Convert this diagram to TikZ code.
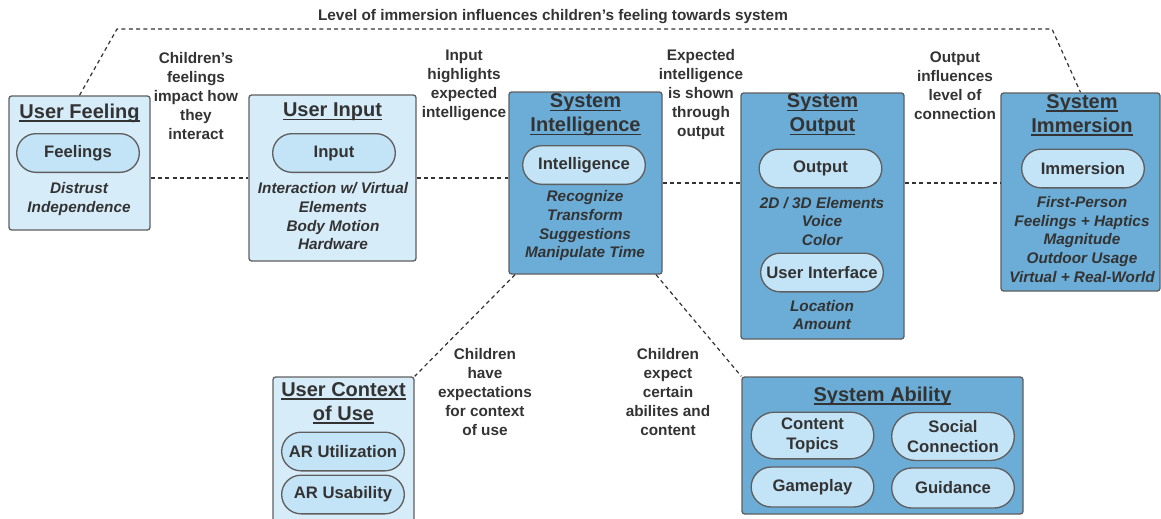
\documentclass[tikz,border=0pt]{standalone}
\usepackage{fontspec}
\setmainfont{Liberation Sans}
\usetikzlibrary{shapes.misc}
\newsavebox{\headbox}
\newcommand{\headul}[1]{\sbox{\headbox}{#1}\rlap{\raisebox{-2.6pt}{\rule{\wd\headbox}{1.1pt}}}\usebox{\headbox}}
\definecolor{lightfill}{HTML}{D7ECF9}
\definecolor{pillfill}{HTML}{C3E3F6}
\definecolor{darkfill}{HTML}{6BADD6}
\definecolor{edgegrey}{HTML}{5F5F5F}
\definecolor{inkgrey}{HTML}{333333}
\tikzset{
	box/.style={draw=edgegrey, line width=1pt, rounded corners=2pt, inner sep=0pt},
	lightbox/.style={box, fill=lightfill},
	darkbox/.style={box, fill=darkfill},
	pill/.style={draw=edgegrey, line width=1pt, fill=pillfill, rounded rectangle, inner sep=0pt,
		minimum width=92pt, minimum height=29pt, align=center, text=inkgrey,
		font=\fontsize{12.5}{15}\selectfont\bfseries},
	heading/.style={text=inkgrey, align=center, font=\fontsize{15}{18}\selectfont\bfseries},
	items/.style={text=inkgrey, align=center, font=\fontsize{11.5}{14}\selectfont\bfseries\itshape},
	note/.style={text=inkgrey, align=center, font=\fontsize{11.5}{14.25}\selectfont\bfseries},
	link/.style={draw=inkgrey, line width=0.9pt, dash pattern=on 3pt off 2.5pt},
}
\begin{document}
\begin{tikzpicture}[x=0.75pt, y=-0.75pt]
	\useasboundingbox (0,0) rectangle (1161,518);
	\clip (0,0) rectangle (1161,518);

	% outer boxes
	\node[lightbox, minimum width=105.75pt, minimum height=100.5pt] (feel) at (79.5,163) {};
	\node[lightbox, minimum width=125.25pt, minimum height=124.5pt] (input) at (332.5,178) {};
	\node[darkbox, minimum width=114.75pt, minimum height=136.5pt] (intel) at (585.5,183) {};
	\node[darkbox, minimum width=122.25pt, minimum height=184.5pt] (output) at (822.5,216) {};
	\node[darkbox, minimum width=119.25pt, minimum height=148.5pt] (immer) at (1080.5,192) {};
	\node[lightbox, minimum width=105.75pt, minimum height=122.25pt] (context) at (343.5,458.5) {};
	\node[darkbox, minimum width=210.75pt, minimum height=102.75pt] (ability) at (882.5,445.5) {};

	% headings
	\node[heading] (feelhead) at (79.5,113) {\headul{User Feeling}};
	\node[heading] (inputhead) at (332.5,112) {\headul{User Input}};
	\node[heading] (intelhead) at (585.5,115) {\headul{System}\\\headul{Intelligence}};
	\node[heading] (outputhead) at (822.5,115) {\headul{System}\\\headul{Output}};
	\node[heading] (immerhead) at (1082,115) {\headul{System}\\\headul{Immersion}};
	\node[heading] (contexthead) at (343.5,403) {\headul{User Context}\\\headul{of Use}};
	\node[heading] (abilityhead) at (882.5,396) {\headul{System Ability}};

	% pills
	\node[pill] (feelings) at (78,153) {Feelings};
	\node[pill] (inputpill) at (334,153) {Input};
	\node[pill] (intelpill) at (584,165) {Intelligence};
	\node[pill] (outputpill) at (820.5,168.5) {Output};
	\node[pill] (uipill) at (822,272.5) {User Interface};
	\node[pill] (immerpill) at (1083,168.5) {Immersion};
	\node[pill] (utilpill) at (343,451.5) {AR Utilization};
	\node[pill] (usabpill) at (343,494.5) {AR Usability};
	\node[pill, minimum height=35pt] (topics) at (812.5,435.5) {Content\\Topics};
	\node[pill, minimum height=36pt] (social) at (953,436.5) {Social\\Connection};
	\node[pill, minimum height=30pt] (gameplay) at (812.5,487) {Gameplay};
	\node[pill, minimum height=30pt] (guidance) at (953,488) {Guidance};

	% item lists
	\node[items] (feelitems) at (79,199) {Distrust\\Independence};
	\node[items] (inputitems) at (333,216.5) {Interaction w/ Virtual\\Elements\\Body Motion\\Hardware};
	\node[items] (intelitems) at (585,226) {Recognize\\Transform\\Suggestions\\Manipulate Time};
	\node[items] (outputitems) at (822,221.5) {2D / 3D Elements\\Voice\\Color};
	\node[items] (uiitems) at (822,315) {Location\\Amount};
	\node[items] (immeritems) at (1082,239.5) {First-Person\\Feelings + Haptics\\Magnitude\\Outdoor Usage\\Virtual + Real-World};

	% dashed links
	\draw[link] (feel.east |- input) -- (input.west);
	\draw[link] (input.east) -- (intel.west |- input);
	\draw[link] (intel.east) -- (output.west |- intel);
	\draw[link] (output.east |- intel) -- (immer.west |- intel);
	\coordinate (topleft) at (117,29);
	\coordinate (topright) at (1052,29);
	\draw[link] (feel.north) -- (topleft) -- (topright) -- (immer.north);
	\draw[link] ([xshift=5pt]intel.south west) -- (context.north east);
	\draw[link] ([xshift=-5pt]intel.south east) -- (ability.north west);

	% notes
	\node[note] (toptext) at (553,17) {Level of immersion influences children's feeling towards system};
	\node[note] (feelnote) at (196,96.5) {Children's\\feelings\\impact how\\they\\interact};
	\node[note] (inputnote) at (464,85) {Input\\highlights\\expected\\intelligence};
	\node[note] (intelnote) at (701,95) {Expected\\intelligence\\is shown\\through\\output};
	\node[note] (outputnote) at (955,85.5) {Output\\influences\\level of\\connection};
	\node[note] (contextnote) at (485,392.5) {Children\\have\\expectations\\for context\\of use};
	\node[note] (abilitynote) at (668,392.5) {Children\\expect\\certain\\abilites and\\content};
\end{tikzpicture}
\end{document}
